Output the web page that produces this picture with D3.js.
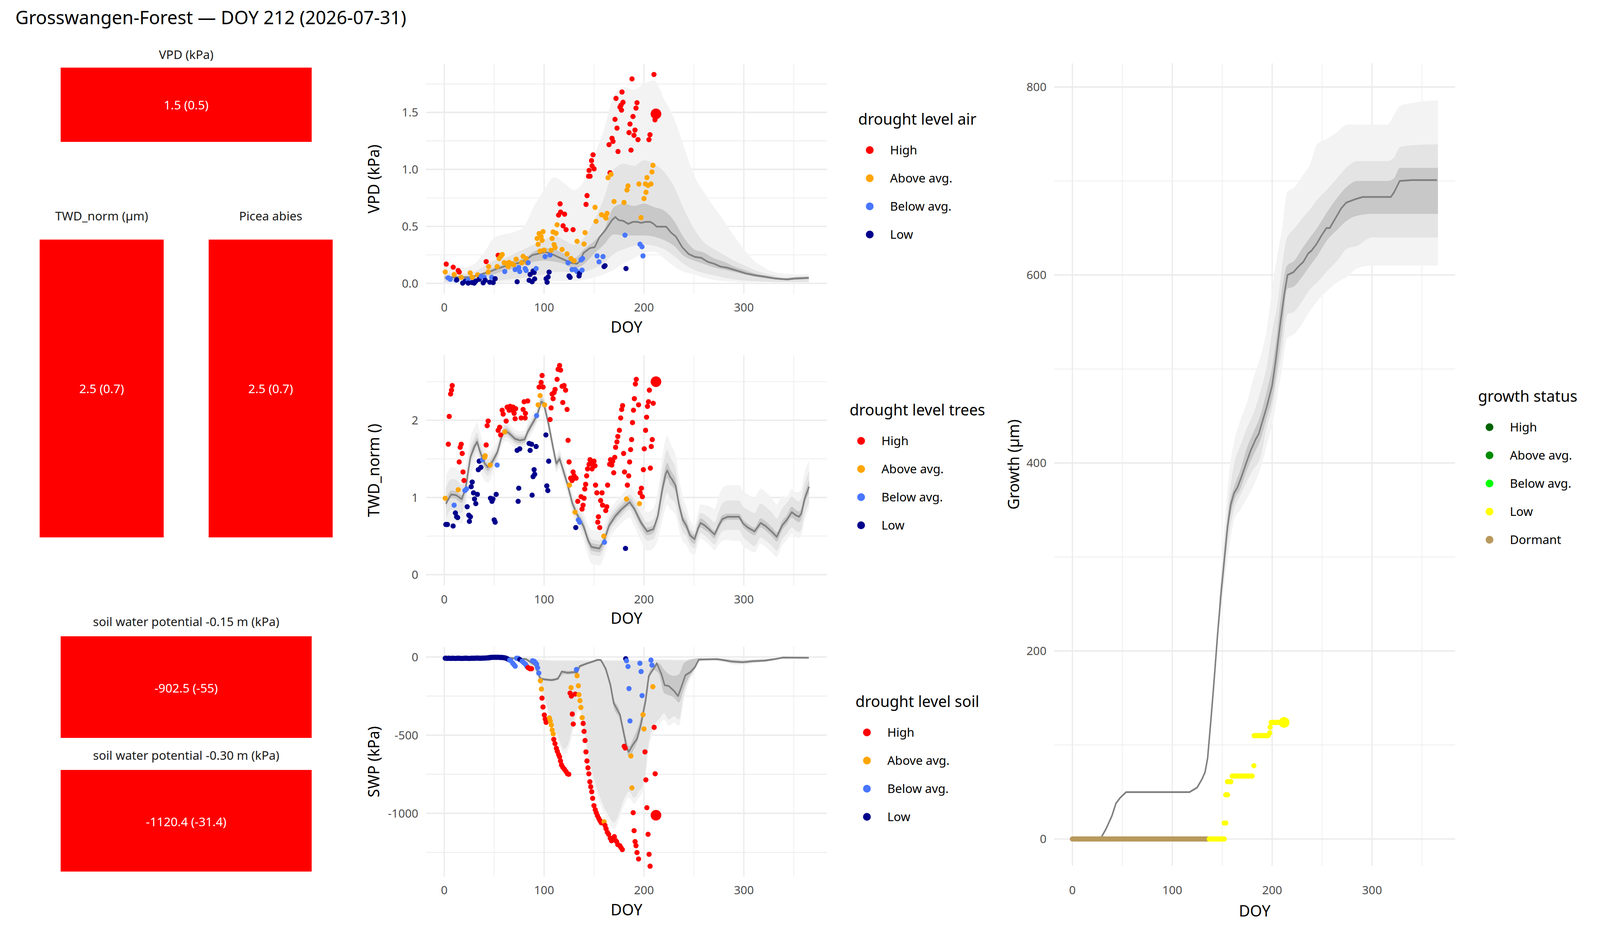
<!DOCTYPE html>
<html><head><meta charset="utf-8">
<script src="https://cdn.jsdelivr.net/npm/d3@7"></script>
<style>html,body{margin:0;padding:0;background:#fff;overflow:hidden;width:100%;height:100%}svg{display:block;font-family:'Noto Sans',sans-serif}</style>
</head><body>
<svg id="c"></svg>
<script>
// ---------------- DATA ----------------
const plotTitle = "Grosswangen-Forest — DOY 212 (2026-07-31)";
const droughtLevels = ["High","Above avg.","Below avg.","Low"];
const droughtColors = ["#FF0000","#FFA500","#4876FF","#00008B"];
const growthLevels = ["High","Above avg.","Below avg.","Low","Dormant"];
const growthColors = ["#006400","#008B00","#00FF00","#FFFF00","#B8995C"];

const boxTitles = ["VPD (kPa)","TWD_norm (µm)","Picea abies","soil water potential -0.15 m (kPa)","soil water potential -0.30 m (kPa)"];
const boxValues = ["1.5 (0.5)","2.5 (0.7)","2.5 (0.7)","-902.5 (-55)","-1120.4 (-31.4)"];
const boxLevel = ["High","High","High","High","High"];

const xTicks = [0,100,200,300];
const xMinor = [50,150,250,350];
const vpdTicks = [0,0.5,1,1.5], vpdTickLabels = ["0.0","0.5","1.0","1.5"], vpdMinor = [0.25,0.75,1.25,1.75];
const twdTicks = [0,1,2], twdTickLabels = ["0","1","2"], twdMinor = [0.5,1.5,2.5];
const swpTicks = [0,-500,-1000], swpTickLabels = ["0","-500","-1000"], swpMinor = [-250,-750,-1250];
const grTicks = [0,200,400,600,800], grTickLabels = ["0","200","400","600","800"], grMinor = [100,300,500,700];

// VPD points [DOY, kPa]
const vpdHigh = [[2,0.169],[9,0.142],[14,0.113],[15,0.099],[42,0.191],[54,0.246],[114.5,0.599],[116,0.698],[116.5,0.625],[119,0.505],[120.5,0.607],[122,0.471],[129,0.471],[142,0.693],[143,0.770],[144.5,0.940],[145,0.991],[146,0.940],[147.5,1.077],[148,1.031],[149,1.128],[150,1.005],[165,1.217],[166,0.971],[168,1.273],[169,1.246],[171,1.439],[172,1.623],[173,1.362],[174,1.157],[176,1.546],[177,1.563],[177.5,1.520],[178,1.679],[179,1.589],[185,1.323],[186,1.398],[187,1.169],[188,1.794],[189,1.464],[190,1.299],[191,1.345],[192,1.538],[193,1.585],[194,1.261],[205,1.261],[206,1.304],[210,1.833],[211,1.435]];
const vpdAbove = [[1,0.10],[10,0.078],[17,0.053],[26,0.092],[28,0.053],[33.5,0.075],[44,0.10],[44.5,0.147],[53,0.147],[55,0.218],[57,0.241],[58,0.253],[60,0.181],[62,0.176],[64,0.147],[65,0.184],[68,0.171],[69.5,0.164],[72,0.212],[77.5,0.181],[79,0.237],[82,0.218],[83,0.181],[93,0.394],[94,0.343],[95,0.437],[96,0.283],[97,0.411],[98,0.377],[99,0.454],[100,0.292],[107,0.290],[108,0.394],[109,0.451],[110,0.340],[111,0.314],[112,0.440],[113,0.514],[118,0.297],[123,0.258],[127,0.218],[130,0.198],[133,0.369],[140,0.345],[141,0.445],[151,0.667],[152,0.544],[157.5,0.602],[161,0.587],[162,0.573],[163,0.614],[164,0.927],[167,0.957],[170,0.718],[180,0.710],[183,0.819],[184,0.855],[195,0.872],[197,0.577],[200,0.744],[201.5,0.872],[202,0.799],[203,0.928],[204,0.860],[207,0.872],[208,0.978],[209,1.036]];
const vpdBelow = [[4,0.048],[6,0.036],[12,0.027],[24,0.031],[37,0.061],[40,0.053],[47.5,0.053],[60.6,0.104],[71,0.121],[74.6,0.138],[75.6,0.104],[81,0.130],[82,0.113],[84,0.181],[92,0.130],[101,0.235],[106,0.249],[124,0.181],[128,0.121],[131,0.121],[133,0.104],[137,0.206],[138,0.116],[138.5,0.218],[153,0.241],[155,0.189],[159,0.235],[181,0.423],[196,0.343],[198,0.321],[199,0.241]];
const vpdLow = [[12.5,0.031],[18.5,0.002],[21,0.019],[24,0.002],[28,0.007],[30,0.002],[31.5,0.019],[35,0.036],[39,0.005],[41,0.027],[45.6,0.01],[49,0.007],[51,0.041],[73,0.014],[85,0.027],[86,0.078],[88,0.014],[89,0.108],[90,0.096],[90.5,0.039],[102,0.041],[103,0.010],[104,0.056],[105,0.099],[125,0.065],[126,0.053],[135,0.065],[135.5,0.087],[160,0.147],[161,0.155],[182,0.130]];
const vpdToday = [212,1.487,"High"];
const vpdMedian = [[1,0.05],[8.6,0.053],[26.2,0.053],[43.7,0.096],[53.3,0.130],[66,0.164],[75.6,0.181],[82,0.206],[88.4,0.249],[93.1,0.258],[101.1,0.275],[107.5,0.258],[113.9,0.232],[120.3,0.206],[126.6,0.181],[133,0.172],[136.2,0.198],[139.4,0.266],[145.8,0.309],[150.6,0.317],[155.3,0.403],[161.7,0.471],[168.1,0.556],[171.3,0.582],[174.5,0.556],[179.3,0.548],[184.1,0.522],[188.8,0.539],[193.6,0.539],[196.8,0.531],[201.6,0.539],[206.4,0.539],[209.6,0.522],[212.8,0.497],[217.5,0.497],[222.3,0.497],[227.1,0.445],[231.9,0.411],[238.3,0.317],[244.7,0.258],[251,0.232],[257.4,0.224],[263.8,0.189],[270.2,0.172],[276.6,0.147],[282.9,0.138],[292.5,0.113],[302.1,0.087],[311.6,0.070],[321.2,0.058],[330.8,0.044],[343.5,0.034],[349.9,0.041],[365,0.048]];
// VPD quantile bands [DOY, outerLo, outerHi, midLo, midHi, innerLo, innerHi]
const vpdBands = [
[0,0.005,0.17,0.01,0.09,0.035,0.065],[10,0.005,0.15,0.01,0.085,0.035,0.065],[20,0.005,0.14,0.01,0.085,0.035,0.065],[30,0.005,0.17,0.01,0.10,0.035,0.07],
[40,0.005,0.27,0.015,0.15,0.06,0.10],[50,0.005,0.40,0.02,0.20,0.08,0.14],[60,0.01,0.43,0.03,0.22,0.11,0.17],[70,0.01,0.45,0.04,0.26,0.13,0.20],
[80,0.01,0.50,0.05,0.30,0.16,0.22],[90,0.015,0.68,0.065,0.34,0.19,0.28],[100,0.02,0.82,0.08,0.38,0.20,0.31],[110,0.02,0.93,0.10,0.42,0.19,0.30],
[120,0.02,0.88,0.10,0.38,0.17,0.26],[130,0.02,0.82,0.09,0.34,0.13,0.22],[140,0.03,0.90,0.10,0.40,0.17,0.30],[150,0.05,1.12,0.13,0.55,0.26,0.37],
[160,0.08,1.35,0.18,0.75,0.34,0.47],[170,0.12,1.65,0.26,1.00,0.43,0.67],[180,0.18,1.72,0.30,1.05,0.42,0.70],[190,0.22,1.70,0.33,1.03,0.42,0.68],
[200,0.27,1.75,0.34,1.08,0.42,0.70],[210,0.28,1.78,0.33,1.05,0.41,0.67],[220,0.22,1.62,0.30,0.98,0.38,0.64],[230,0.15,1.45,0.24,0.85,0.33,0.55],
[240,0.10,1.20,0.17,0.65,0.24,0.40],[250,0.08,0.95,0.12,0.48,0.20,0.30],[260,0.05,0.80,0.09,0.36,0.17,0.27],[270,0.03,0.67,0.07,0.30,0.14,0.22],
[280,0.02,0.55,0.05,0.25,0.12,0.19],[290,0.015,0.42,0.035,0.20,0.10,0.15],[300,0.01,0.30,0.025,0.16,0.08,0.12],[310,0.01,0.20,0.02,0.12,0.06,0.09],
[320,0.01,0.14,0.015,0.09,0.045,0.07],[330,0.01,0.10,0.012,0.07,0.035,0.055],[340,0.01,0.085,0.01,0.05,0.028,0.045],[350,0.01,0.08,0.01,0.055,0.033,0.055],
[365,0.01,0.08,0.01,0.06,0.038,0.06]];

// TWD points
const twdHigh = [[5,2.05],[6.4,2.34],[7.3,2.39],[8,2.45],[4.1,1.69],[16,1.65],[17,1.69],[18,1.57],[15,1.46],[18.8,1.33],[19.8,1.22],[42,1.68],[43,1.93],[44,1.99],[54,1.87],[55.5,1.91],[56.5,1.81],[58,2.13],[59,2.08],[62,1.99],[63,2.17],[65,2.13],[66,2.18],[68,2.13],[69,2.17],[70,2.09],[71.5,2.15],[71,2.02],[77,2.03],[79,2.14],[80,2.24],[81,2.03],[81.3,2.09],[83.6,2.25],[95,2.43],[97,2.49],[98,2.58],[99,2.43],[106,2.01],[107,2.16],[108,2.34],[109,2.28],[110,2.36],[111,2.40],[113,2.53],[114,2.66],[115.5,2.71],[116.5,2.65],[118,2.44],[118.7,2.23],[120,2.45],[121.5,2.39],[123,2.14],[124,1.74],[125,1.46],[126.6,1.25],[128,1.22],[129,1.33],[130,1.28],[132,1.25],[133.7,0.95],[137,1.01],[138,0.85],[139,0.90],[140,0.99],[140.7,1.11],[141.6,1.17],[142.6,1.28],[143.5,1.37],[145,1.43],[146,1.49],[147,1.46],[148,1.37],[149,1.42],[150,1.47],[151,1.41],[151.5,1.16],[152.8,1.06],[153.7,0.68],[154.4,0.75],[155.7,0.61],[156.6,0.96],[158,1.06],[158.5,0.90],[161.7,0.83],[162.7,0.88],[163.6,1.16],[165.6,1.43],[166.5,1.49],[167.8,1.42],[168.7,1.47],[169.7,1.32],[170.7,1.52],[171.6,1.65],[172.9,1.72],[173.8,1.79],[175.4,1.87],[176.7,2.03],[177.7,2.14],[178.6,2.19],[179.6,1.57],[180.5,1.33],[183.4,1.16],[184.7,1.28],[185.6,1.46],[186.6,1.62],[187.6,1.75],[188.5,1.97],[189.5,2.13],[190.4,2.28],[191.4,2.47],[192.3,2.53],[194.6,2.20],[196.2,1.06],[197.4,1.12],[198.4,1.01],[199.4,1.36],[200.3,1.63],[201.6,1.87],[202.6,2.04],[203.5,2.18],[204.5,2.24],[205.4,2.39],[206.4,1.38],[207.3,1.66],[208.3,1.75],[209.3,2.22]];
const twdAbove = [[1,0.99],[14,1.10],[40.5,1.52],[41,1.54],[46,1.42],[60.6,1.85],[94,2.20],[96,2.32],[100.5,2.20],[125.4,1.16],[131,0.81],[159.8,0.50],[182.5,0.98],[195.5,0.92]];
const twdBelow = [[9.9,0.90],[20.7,1.09],[22.3,1.11],[38.3,1.49],[53,1.42],[92.5,2.06],[134.3,0.71],[135.6,0.68],[160.4,0.42]];
const twdLow = [[1.6,0.65],[3.2,0.65],[8.9,0.63],[11.2,0.80],[12.4,0.75],[13.4,0.74],[23,0.88],[24.6,0.77],[25.2,0.69],[26.2,0.75],[27,1.14],[28,1.20],[29.3,1.06],[30.3,0.98],[31.6,0.92],[33.2,1.04],[34.1,1.36],[35,1.47],[36.7,1.39],[46.3,0.99],[47.8,0.95],[48.8,0.98],[50,0.71],[51,0.68],[52,1.04],[73,1.61],[74,0.95],[74.6,1.12],[75.6,1.63],[85,1.70],[86,1.61],[87.4,1.69],[88,1.03],[89,1.27],[90,1.36],[90.6,1.30],[92,1.66],[101.8,1.81],[102.7,1.15],[103.7,1.09],[104.6,1.47],[131.7,0.61],[181.5,0.34]];
const twdToday = [212,2.5,"High"];
// TWD median with band spreads [DOY, median, innerHW, midUp, midDown, outerUp, outerDown]
const twdCurve = [
[1.6,0.92,.05,.2,.2,.35,.35],[7,1.04,.05,.2,.2,.35,.35],[11.8,1.03,.05,.2,.2,.35,.35],[17.5,0.98,.05,.18,.18,.32,.32],[21.4,1.12,.05,.15,.15,.28,.28],
[26.2,1.52,.05,.12,.12,.25,.25],[30.3,1.66,.05,.12,.12,.25,.25],[32.9,1.72,.05,.12,.12,.25,.25],[35.7,1.60,.05,.12,.12,.25,.25],[40.5,1.44,.05,.12,.12,.22,.22],
[43.7,1.39,.05,.11,.11,.2,.2],[48.5,1.47,.05,.1,.1,.18,.18],[53.3,1.59,.04,.08,.08,.14,.14],[58,1.81,.04,.08,.08,.13,.13],[62,1.86,.04,.08,.08,.13,.13],
[66,1.82,.04,.07,.07,.12,.12],[70.8,1.76,.04,.07,.07,.12,.12],[75.6,1.74,.04,.07,.07,.12,.12],[80.4,1.75,.04,.07,.07,.12,.12],[83.6,1.85,.04,.07,.07,.12,.12],
[88.4,1.96,.04,.07,.07,.12,.12],[93.1,2.07,.04,.07,.07,.11,.11],[97.3,2.24,.04,.07,.07,.1,.1],[99.5,2.22,.04,.07,.07,.1,.1],[104.3,1.96,.04,.07,.07,.11,.11],
[109.1,1.64,.04,.07,.07,.12,.12],[112.3,1.44,.04,.07,.07,.12,.12],[115.5,1.50,.04,.07,.07,.12,.12],[118.7,1.37,.04,.07,.07,.12,.12],[123.4,1.17,.04,.07,.07,.13,.13],
[128.2,0.93,.04,.08,.08,.14,.14],[133,0.78,.04,.08,.08,.15,.15],[139.4,0.63,.05,.1,.1,.18,.18],[144.2,0.44,.05,.1,.1,.2,.2],[147.4,0.36,.05,.1,.1,.22,.22],
[150.6,0.35,.05,.1,.1,.22,.22],[155.3,0.34,.05,.1,.1,.22,.22],[160.1,0.44,.05,.1,.1,.2,.2],[164.9,0.63,.05,.1,.1,.18,.18],[171.3,0.76,.05,.1,.1,.18,.18],
[177.7,0.85,.05,.1,.1,.18,.18],[185.6,0.94,.05,.1,.1,.2,.2],[190.4,0.85,.05,.12,.12,.22,.22],[196.8,0.68,.05,.12,.12,.24,.24],[203.2,0.56,.05,.12,.12,.25,.25],
[209.4,0.59,.05,.13,.13,.27,.25],[213.9,0.76,.05,.15,.15,.32,.3],[218.3,1.10,.08,.25,.25,.42,.4],[221.6,1.30,.1,.27,.28,.45,.44],[223.3,1.35,.1,.27,.29,.45,.44],
[226.1,1.27,.1,.26,.28,.44,.42],[228.3,1.23,.09,.25,.26,.42,.4],[231.7,1.15,.08,.22,.24,.4,.38],[235,0.91,.06,.18,.2,.35,.32],[238.9,0.71,.06,.15,.16,.3,.28],
[242.2,0.64,.06,.13,.14,.25,.25],[246.1,0.51,.06,.1,.12,.2,.22],[250.6,0.46,.06,.1,.12,.17,.2],[253.9,0.59,.06,.12,.12,.2,.2],[256.7,0.67,.06,.13,.13,.24,.2],
[260.6,0.64,.06,.14,.13,.26,.2],[265,0.59,.05,.15,.13,.3,.2],[270.6,0.52,.05,.16,.13,.33,.2],[275,0.64,.05,.18,.15,.38,.25],[278.4,0.72,.05,.2,.16,.4,.28],
[283.9,0.75,.04,.21,.17,.41,.3],[289.5,0.75,.04,.21,.17,.41,.31],[295.1,0.75,.04,.21,.17,.41,.31],[299.5,0.66,.05,.22,.18,.42,.3],[304,0.61,.05,.23,.18,.43,.28],
[310.7,0.56,.05,.24,.19,.44,.27],[316.8,0.67,.06,.25,.19,.44,.27],[321.8,0.63,.06,.25,.19,.44,.27],[328.5,0.55,.06,.25,.18,.43,.27],[332.9,0.49,.06,.24,.18,.42,.26],
[338.5,0.64,.06,.22,.18,.38,.26],[343,0.71,.06,.22,.18,.3,.26],[348,0.81,.07,.2,.2,.3,.28],[351.9,0.77,.07,.2,.2,.3,.28],[355.2,0.75,.07,.2,.2,.32,.28],
[357.5,0.79,.07,.2,.2,.33,.28],[360.8,0.98,.07,.2,.2,.34,.28],[365.3,1.14,.08,.2,.21,.34,.28]];

// SWP points
const swpLow = [[1,-8],[2,-8],[3,-9],[4,-8],[5,-8],[6,-9],[7,-9],[8,-8],[9,-8],[10,-9],[11,-9],[12,-9],[13,-8],[14,-8],[15,-8],[16,-9],[17,-9],[18,-9],[19,-9],[20,-8],[21,-8],[22,-8],[23,-8],[24,-9],[25,-9],[26,-9],[27,-8],[28,-8],[29,-8],[30,-8],[31,-8],[32,-7],[33,-7],[34,-7],[35,-8],[36,-8],[37,-8],[38,-7],[39,-7],[40,-7],[41,-7],[42,-6],[43,-6],[44,-5],[45,-5],[46,-3],[47,-3],[48,-2],[49,-2],[50,-2],[51,-2],[52,-2],[53,-2],[54,-2],[55,-2],[56,-3],[57,-3],[58,-3],[59,-4],[60,-5],[61,-6],[62,-8],[63,-11],[64,-15],[75.6,-16],[181.7,-11]];
const swpBelow = [[65.5,-20],[66.7,-24],[68.6,-40],[69.9,-50],[71.1,-59],[72.4,-8],[74,-8],[78,-27],[79.7,-37],[81.3,-46],[82.6,-59],[88.4,-24],[90,-27],[91.5,-37],[92.5,-46],[93.5,-69],[94.7,-103],[132.4,-80],[182.5,-24],[184,-61],[185,-202],[186,-409],[195.9,-40],[197.1,-93],[198.1,-247],[207,-20],[208,-52]];
const swpHigh = [[83.9,-68],[85.8,-75],[87.4,-75],[97.9,-263],[98.9,-320],[100.2,-371],[101.1,-397],[102,-418],[109.7,-527],[110.9,-554],[112.3,-584],[113.2,-603],[114.5,-624],[115.5,-639],[116.4,-665],[117.4,-690],[118.7,-705],[120.3,-718],[121.9,-732],[123.4,-747],[124.7,-750],[126,-231],[127.3,-250],[128.2,-365],[129.2,-429],[131.1,-237],[139.1,-425],[140,-476],[141,-534],[141.9,-607],[142.9,-665],[143.9,-709],[144.8,-747],[145.8,-798],[146.7,-830],[147.7,-862],[148.6,-904],[149.9,-951],[151.2,-977],[152.2,-996],[153.4,-1015],[154.7,-1032],[155.9,-1047],[157.2,-1060],[161,-1077],[162,-1098],[163.3,-1121],[164.6,-1134],[166.2,-1159],[167.5,-1175],[169,-1159],[170.3,-1149],[171.3,-1172],[172.6,-1181],[173.8,-1200],[175.8,-1207],[177,-1219],[178.3,-1232],[180.2,-571],[181.2,-582],[189.2,-996],[190.1,-1111],[191.1,-1181],[192,-1207],[193,-1251],[194.6,-1292],[201,-607],[201.9,-786],[202.9,-964],[204.1,-1134],[205.1,-1262],[206.1,-1338],[210.2,-450],[211.2,-747]];
const swpAbove = [[96.3,-152],[97.3,-205],[105.3,-390],[106.2,-409],[107.2,-435],[108.1,-467],[109.1,-492],[127,-196],[133,-120],[134.3,-184],[134.9,-241],[135.9,-279],[136.8,-323],[138.1,-388],[160.1,-1054],[186.9,-633],[187.9,-837],[199,-369],[200,-460],[208.9,-190]];
const swpToday = [212,-1012,"High"];
const swpMedian = [[0,-5],[62.8,-5],[82,-14],[90.9,-52],[96.3,-139],[101.1,-144],[107.5,-148],[113.9,-139],[117.7,-93],[123.4,-101],[129.8,-97],[133,-101],[135.6,-59],[142.6,-42],[148.9,-29],[153.7,-18],[156.9,-20],[161.7,-75],[166.5,-180],[169.7,-295],[172.9,-333],[176.1,-371],[179.3,-473],[182.5,-575],[184.7,-607],[188.8,-562],[193,-524],[196.8,-435],[201.6,-282],[204.8,-122],[208,-91],[211.2,-59],[212.8,-40],[217.5,-110],[220.7,-180],[224.9,-186],[230.3,-218],[234.1,-250],[236.7,-205],[241.5,-116],[246.3,-97],[251,-65],[254.9,-17],[273.4,-14],[279.7,-20],[287.7,-29],[298.9,-33],[308.5,-27],[321.2,-23],[330.8,-14],[338.8,-4],[365,-5]];
// SWP bands [DOY, outerLo, outerHi, midLo, midHi, innerLo, innerHi]
const swpBands = [
[0,-10,-1,-9,-2,-7,-3],[60,-11,-1,-9,-2,-7,-3],[70,-20,-2,-16,-3,-11,-6],[80,-38,-3,-30,-5,-17,-10],[85,-65,-5,-55,-8,-30,-20],
[90,-90,-8,-75,-12,-55,-42],[95,-165,-12,-140,-18,-135,-115],[100,-280,-15,-250,-22,-152,-135],[105,-390,-16,-360,-24,-155,-138],
[110,-480,-17,-450,-25,-155,-138],[115,-560,-17,-530,-25,-135,-115],[120,-620,-17,-590,-25,-110,-86],[125,-580,-17,-540,-25,-112,-88],
[130,-440,-17,-400,-25,-110,-86],[135,-350,-17,-320,-25,-75,-55],[140,-490,-17,-460,-25,-56,-40],[145,-700,-17,-660,-25,-44,-30],
[150,-820,-17,-780,-25,-33,-20],[155,-920,-17,-880,-25,-25,-12],[160,-1000,-17,-960,-25,-70,-45],[165,-1060,-17,-1020,-25,-170,-125],
[170,-1100,-17,-1060,-25,-330,-270],[175,-1040,-17,-1000,-25,-390,-330],[180,-950,-17,-910,-25,-520,-460],[185,-900,-17,-860,-25,-640,-570],
[190,-940,-17,-900,-25,-590,-510],[195,-900,-17,-860,-25,-510,-430],[200,-840,-17,-800,-25,-370,-290],[205,-580,-15,-540,-22,-150,-100],
[210,-480,-14,-440,-20,-85,-55],[215,-440,-14,-400,-20,-110,-40],[220,-400,-14,-360,-20,-230,-80],[225,-440,-14,-400,-20,-245,-110],
[230,-420,-15,-380,-22,-260,-120],[235,-440,-15,-400,-22,-290,-110],[240,-270,-15,-240,-22,-200,-40],[245,-160,-12,-140,-18,-130,-20],
[250,-105,-10,-90,-14,-85,-12],[255,-32,-6,-25,-8,-25,-8],[260,-22,-6,-18,-8,-20,-10],[270,-24,-7,-20,-9,-18,-10],[280,-33,-9,-28,-12,-26,-15],
[290,-48,-12,-42,-16,-36,-24],[300,-50,-15,-44,-20,-39,-27],[310,-40,-13,-35,-17,-32,-22],[320,-34,-11,-30,-14,-28,-18],[330,-23,-7,-20,-9,-18,-10],
[340,-10,-1,-8,-2,-7,-2],[350,-10,-2,-8,-3,-7,-3],[365,-10,-2,-8,-3,-7,-3]];

// Growth
const growthDormantDoy = [0,1,2,3,4,5,6,7,8,9,10,11,12,13,14,15,16,17,18,19,20,21,22,23,24,25,26,27,28,29,30,31,32,33,34,35,36,37,38,39,40,41,42,43,44,45,46,47,48,49,50,51,52,53,54,55,56,57,58,59,60,61,62,63,64,65,66,67,68,69,70,71,72,73,74,75,76,77,78,79,80,81,82,83,84,85,86,87,88,89,90,91,92,93,94,95,96,97,98,99,100,101,102,103,104,105,106,107,108,109,110,111,112,113,114,115,116,117,118,119,120,121,122,123,124,125,126,127,128,129,130,131,132,133,134,135,136];
const growthDormantValue = 0;
const growthLow = [[137,0],[138,0],[139,0],[140,0],[141,0],[142,0],[143,0],[144,0],[145,0],[146,0],[147,0],[148,0],[149,0],[150,0],[151,0],[152,0],[152,17],[153.6,17],[153.6,47],[155.3,47],[155.3,61],[157,61],[158.6,61],[160,67],[161,67],[162,67],[163,67],[164,67],[165,67],[166,67],[167,67],[168,67],[169,67],[170,67],[171,67],[172,67],[173,67],[174,67],[175,67],[176,67],[177,67],[178,67],[179,67],[180,67],[181.7,78],[182,110],[183,110],[184,110],[185,110],[186,110],[187,110],[188,110],[189,110],[190,110],[191,110],[192,110],[193,110],[194,110],[195,110],[196,110],[197.6,113],[198,119],[199,124],[200,124],[201,124],[202,124],[203,124],[204,124],[205,124],[206,124],[207,124],[208,124],[209,124],[210,124]];
const growthToday = [212,124,"Low"];
const growthMedian = [[0,0],[28,0],[33.7,10.8],[39.6,24.7],[43.6,37.9],[47.9,43.9],[53.8,49.9],[117.3,49.9],[124.9,54.8],[129.5,63.2],[132.8,71],[135.4,86],[138.8,128],[142,170],[145.4,218],[148.7,260],[152,296],[155.3,332],[158.6,356],[161.9,368],[165.2,374],[168.5,383],[173.4,398],[178.4,413],[183.4,425],[186.6,431],[189.9,443],[194.9,461],[199.9,482],[203.2,506],[208.1,548],[212.1,579],[215.4,600],[221.3,603],[226.3,609],[231.2,614],[236.2,623],[239.5,626],[244.5,633],[249.4,642],[254.4,650],[257.7,650],[264.3,662],[269.2,671],[274.2,677],[284.1,681],[290.7,683],[318.8,683],[322.1,688],[327.7,700],[340.3,701],[365,701]];
// Growth bands [DOY, outerLo, outerHi, midLo, midHi, innerLo, innerHi]
const growthBands = [
[147,224,256,228,250,232,246],[152,270,330,280,315,288,303],[157,310,390,325,365,336,354],[162,339,423,351,399,360,375],[168,350,445,365,418,372,392],
[175,363,465,381,438,393,417],[181,375,489,393,452,408,432],[188,393,512,405,475,424,450],[195,420,545,440,505,450,478],[200,441,585,458,540,468,502],
[205,470,620,490,567,500,540],[210,501,650,520,610,540,585],[215,533,688,558,640,585,610],[222,537,693,561,649,588,615],[230,548,705,572,660,598,628],
[238,562,718,585,670,610,640],[245,572,739,592,680,620,650],[255,583,745,604,691,637,667],[265,592,752,615,703,648,682],[275,598,760,628,715,658,694],
[285,607,760,631,721,663,700],[300,610,760,640,721,665,700],[315,610,760,640,721,665,700],[322,610,770,640,725,665,703],[328,610,780,640,736,665,714],
[340,610,783,640,738,665,714],[366,610,786,640,739,665,714]];

// ---------------- DRAWING ----------------
// Layout is designed on a 4800x2400 canvas and stretched to fill the actual viewport;
// text and dots are counter-scaled so they stay undistorted.
const VW = window.innerWidth || 4800, VH = window.innerHeight || 2400;
const SX = VW/4800, SY = VH/2400, K = SX/SY;
const svg = d3.select('#c').attr('width',VW).attr('height',VH);
const root = svg.append('g').attr('transform',`scale(${SX},${SY})`);
const GRID = '#EBEBEB', TICK = '#4D4D4D';
const bandColors = ['#F3F3F3','#E4E4E4','#C8C8C8'];
const colorOf = (lvl) => droughtColors[droughtLevels.indexOf(lvl)];
const FS_TICK = 35, FS_TXT = 36.5, FS_TITLE = 46, FS_PLOT = 55;

function txt(parent,x,y,str,o){
  o=o||{};
  const t=parent.append('text')
    .attr('transform',`translate(${x},${y}) scale(1,${K})${o.rot?` rotate(${o.rot})`:''}`)
    .attr('font-size',o.size||FS_TXT).attr('fill',o.fill||'#000').attr('text-anchor',o.anchor||'start').text(str);
  if(o.dy) t.attr('dy',o.dy);
  return t;
}
function dot(parent,cx,cy,r,fill){
  parent.append('ellipse').attr('cx',cx).attr('cy',cy).attr('rx',r).attr('ry',r*K).attr('fill',fill);
}

root.append('rect').attr('width',4800).attr('height',2400).attr('fill','#fff');
txt(root,46,62,plotTitle,{size:FS_PLOT});

const boxLayout = [
 {x0:182,x1:935,y0:173,y1:363,ty:151,vy:280},
 {x0:119,x1:491,y0:613,y1:1375,ty:564,vy:1006},
 {x0:626,x1:998,y0:613,y1:1375,ty:564,vy:1006},
 {x0:182,x1:935,y0:1628,y1:1888,ty:1602,vy:1772},
 {x0:182,x1:935,y0:1970,y1:2230,ty:1944,vy:2114}];
boxLayout.forEach((b,i)=>{
  const cx=(b.x0+b.x1)/2;
  txt(root,cx,b.ty,boxTitles[i],{size:FS_TXT,fill:'#1A1A1A',anchor:'middle'});
  root.append('rect').attr('x',b.x0).attr('y',b.y0).attr('width',b.x1-b.x0).attr('height',b.y1-b.y0).attr('fill',colorOf(boxLevel[i]));
  txt(root,cx,b.vy,boxValues[i],{size:FS_TXT,fill:'#fff',anchor:'middle'});
});

function drawPanel(o){
  const x=d3.scaleLinear().domain([-18.25,383.25]).range([o.x0,o.x1]);
  const y=d3.scaleLinear().domain(o.yDom).range([o.y1,o.y0]);
  const g=root.append('g');
  const hline=(v,w)=>g.append('line').attr('x1',o.x0).attr('x2',o.x1).attr('y1',y(v)).attr('y2',y(v)).attr('stroke',GRID).attr('stroke-width',w);
  const vline=(v,w)=>g.append('line').attr('x1',x(v)).attr('x2',x(v)).attr('y1',o.y0).attr('y2',o.y1).attr('stroke',GRID).attr('stroke-width',w);
  o.yMinor.forEach(v=>hline(v,1.8)); xMinor.forEach(v=>vline(v,1.8));
  o.yTicks.forEach(v=>hline(v,3.6)); xTicks.forEach(v=>vline(v,3.6));
  o.bands.forEach((bd,k)=>{
    const area=d3.area().curve(d3.curveMonotoneX).x(d=>x(d.d)).y0(d=>y(d.lo)).y1(d=>y(d.hi));
    g.append('path').datum(bd).attr('d',area).attr('fill',bandColors[k]);
  });
  g.append('path').datum(o.median).attr('d',d3.line().x(d=>x(d[0])).y(d=>y(d[1])))
    .attr('fill','none').attr('stroke','#7F7F7F').attr('stroke-width',4.5).attr('stroke-linejoin','round');
  const pts=o.points.slice().sort((a,b)=>a.d-b.d);
  pts.forEach(p=>dot(g,x(p.d),y(p.v),7.8,p.c));
  dot(g,x(o.today.d),y(o.today.v),16,o.today.c);
  o.yTicks.forEach((v,i)=>txt(g,o.x0-23,y(v),o.yLabels[i],{size:FS_TICK,fill:TICK,anchor:'end',dy:'0.36em'}));
  xTicks.forEach(v=>txt(g,x(v),o.xTickY,String(v),{size:FS_TICK,fill:TICK,anchor:'middle',dy:'0.36em'}));
  txt(g,(o.x0+o.x1)/2,o.xTitleY,'DOY',{size:FS_TITLE,anchor:'middle'});
  txt(g,o.yTitleX,(o.y0+o.y1)/2,o.yTitle,{size:FS_TITLE,anchor:'middle',rot:-90});
}
const catPts=(arrs,colors)=>arrs.flatMap((a,i)=>a.map(p=>({d:p[0],v:p[1],c:colors[i]})));
const bandsFrom=(rows)=>[1,3,5].map(j=>rows.map(r=>({d:r[0],lo:r[j],hi:r[j+1]})));
const bandsTwd=(rows)=>[
  rows.map(r=>({d:r[0],lo:r[1]-r[6],hi:r[1]+r[5]})),
  rows.map(r=>({d:r[0],lo:r[1]-r[4],hi:r[1]+r[3]})),
  rows.map(r=>({d:r[0],lo:r[1]-r[2],hi:r[1]+r[2]}))];

drawPanel({x0:1278,x1:2481,y0:164,y1:752,yDom:[-0.0926,1.924],yTicks:vpdTicks,yLabels:vpdTickLabels,yMinor:vpdMinor,
  bands:bandsFrom(vpdBands),median:vpdMedian,points:catPts([vpdHigh,vpdAbove,vpdBelow,vpdLow],droughtColors),
  today:{d:vpdToday[0],v:vpdToday[1],c:colorOf(vpdToday[2])},xTickY:786,xTitleY:851,yTitleX:1138,yTitle:'VPD (kPa)'});
drawPanel({x0:1278,x1:2481,y0:909,y1:1498,yDom:[-0.14,2.842],yTicks:twdTicks,yLabels:twdTickLabels,yMinor:twdMinor,
  bands:bandsTwd(twdCurve),median:twdCurve.map(r=>[r[0],r[1]]),points:catPts([twdHigh,twdAbove,twdBelow,twdLow],droughtColors),
  today:{d:twdToday[0],v:twdToday[1],c:colorOf(twdToday[2])},xTickY:1533,xTitleY:1596,yTitleX:1138,yTitle:'TWD_norm ()'});
drawPanel({x0:1278,x1:2481,y0:1655,y1:2243,yDom:[-1405,65],yTicks:swpTicks,yLabels:swpTickLabels,yMinor:swpMinor,
  bands:bandsFrom(swpBands),median:swpMedian,points:catPts([swpHigh,swpAbove,swpBelow,swpLow],droughtColors),
  today:{d:swpToday[0],v:swpToday[1],c:colorOf(swpToday[2])},xTickY:2277,xTitleY:2342,yTitleX:1138,yTitle:'SWP (kPa)'});
const gDorm=growthDormantDoy.map(d=>[d,growthDormantValue]);
drawPanel({x0:3162.5,x1:4365.5,y0:162,y1:2215,yDom:[-28.4,825.2],yTicks:grTicks,yLabels:grTickLabels,yMinor:grMinor,
  bands:bandsFrom(growthBands),median:growthMedian,points:catPts([growthLow,gDorm],[growthColors[3],growthColors[4]]),
  today:{d:growthToday[0],v:growthToday[1],c:growthColors[growthLevels.indexOf(growthToday[2])]},xTickY:2277,xTitleY:2345,yTitleX:3058,yTitle:'Growth (µm)'});

function legend(title,labels,colors,cx,base){
  const g=root.append('g');
  const probe=g.append('text').attr('font-size',FS_TITLE).text(title);
  const w=probe.node().getComputedTextLength(); probe.remove();
  const left=cx-w/2;
  txt(g,left,base,title,{size:FS_TITLE});
  labels.forEach((l,i)=>{
    const yy=base+65+72*i;
    dot(g,left+34.5,yy,11.7,colors[i]);
    txt(g,left+95.5,yy,l,{size:FS_TXT,dy:'0.36em'});
  });
}
legend('drought level air',droughtLevels,droughtColors,2752,319);
legend('drought level trees',droughtLevels,droughtColors,2752,1063);
legend('drought level soil',droughtLevels,droughtColors,2752,1809);
legend('growth status',growthLevels,growthColors,4583,1028);
</script>
</body></html>
